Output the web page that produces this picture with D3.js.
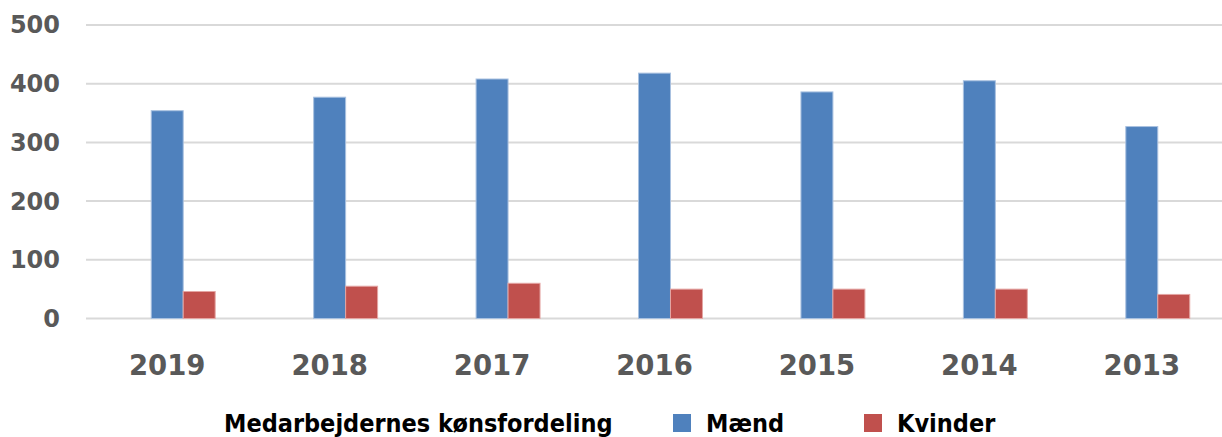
<!DOCTYPE html>
<html>
<head>
<meta charset="utf-8">
<script src="https://cdnjs.cloudflare.com/ajax/libs/d3/7.8.5/d3.min.js"></script>
<style>
  body { margin: 0; background: #fff; }
  svg { display: block; }
</style>
</head>
<body>
<div id="chart"></div>
<script>
var years = ["2019", "2018", "2017", "2016", "2015", "2014", "2013"],
    seriesNames = ["Medarbejdernes kønsfordeling", "Mænd", "Kvinder"],
    maend = [354, 377, 408, 418, 386, 405, 327],
    kvinder = [46, 55, 60, 50, 50, 50, 41],
    yTicks = [0, 100, 200, 300, 400, 500];

// first series is empty in the source chart, it only keeps its slot
var values = [null, maend, kvinder],
    fills = [null, "#4f81bd", "#c0504d"],
    strokes = [null, "#a9c1e0", "#e4a5a3"];

var W = 1222, H = 437;

var svg = d3.select("#chart").append("svg")
    .attr("width", W)
    .attr("height", H);

var x = d3.scaleBand()
    .domain(years)
    .range([86, 1223]);

var xs = d3.scaleBand()
    .domain(d3.range(3))
    .range([0, x.bandwidth()])
    .paddingOuter(1.04);

var y = d3.scaleLinear()
    .domain([0, 500])
    .range([318.5, 25]);

// gridlines
svg.append("g")
    .selectAll("line")
    .data(yTicks)
    .enter().append("line")
    .attr("x1", 86)
    .attr("x2", W)
    .attr("y1", function(d) { return y(d) })
    .attr("y2", function(d) { return y(d) })
    .attr("stroke", "#d9d9d9")
    .attr("stroke-width", 2);

// y axis labels
var yAxis = d3.axisLeft(y).tickValues(yTicks).tickSize(0).tickPadding(0);
svg.append("g")
    .attr("transform", "translate(60,0)")
    .call(yAxis)
    .call(function(g) { g.select(".domain").remove(); })
    .selectAll("text")
    .attr("dy", "0.33em")
    .style("font-family", "'DejaVu Sans', sans-serif")
    .style("font-weight", "bold")
    .style("font-size", "24px")
    .style("fill", "#595959");

// x axis labels
var xAxis = d3.axisBottom(x).tickSize(0).tickPadding(0);
svg.append("g")
    .attr("transform", "translate(0,375)")
    .call(xAxis)
    .call(function(g) { g.select(".domain").remove(); })
    .selectAll("text")
    .attr("dy", 0)
    .style("font-family", "'DejaVu Sans', sans-serif")
    .style("font-weight", "bold")
    .style("font-size", "27.5px")
    .style("fill", "#595959");

// bars
values.forEach(function(vals, s) {
    if (!vals) return;
    svg.append("g")
        .selectAll("rect")
        .data(vals)
        .enter().append("rect")
        .attr("x", function(d, i) { return x(years[i]) + xs(s) })
        .attr("y", function(d) { return y(d) })
        .attr("width", xs.bandwidth())
        .attr("height", function(d) { return y(0) - y(d) })
        .attr("fill", fills[s])
        .attr("stroke", strokes[s])
        .attr("stroke-width", 1);
});

// legend
var legendX = [191, 673, 864];
var legend = svg.append("g")
    .selectAll("g")
    .data(seriesNames)
    .enter().append("g")
    .attr("transform", function(d, i) { return "translate(" + legendX[i] + ",414)" });

legend.filter(function(d, i) { return fills[i] })
    .append("rect")
    .attr("width", 18)
    .attr("height", 18)
    .attr("fill", function(d) { return fills[seriesNames.indexOf(d)] });

legend.append("text")
    .attr("x", 33)
    .attr("y", 18)
    .text(function(d) { return d })
    .style("font-family", "'DejaVu Sans Condensed', 'Liberation Sans Narrow', sans-serif")
    .style("font-weight", "bold")
    .style("font-size", "25px")
    .style("fill", "#000");
</script>
</body>
</html>
